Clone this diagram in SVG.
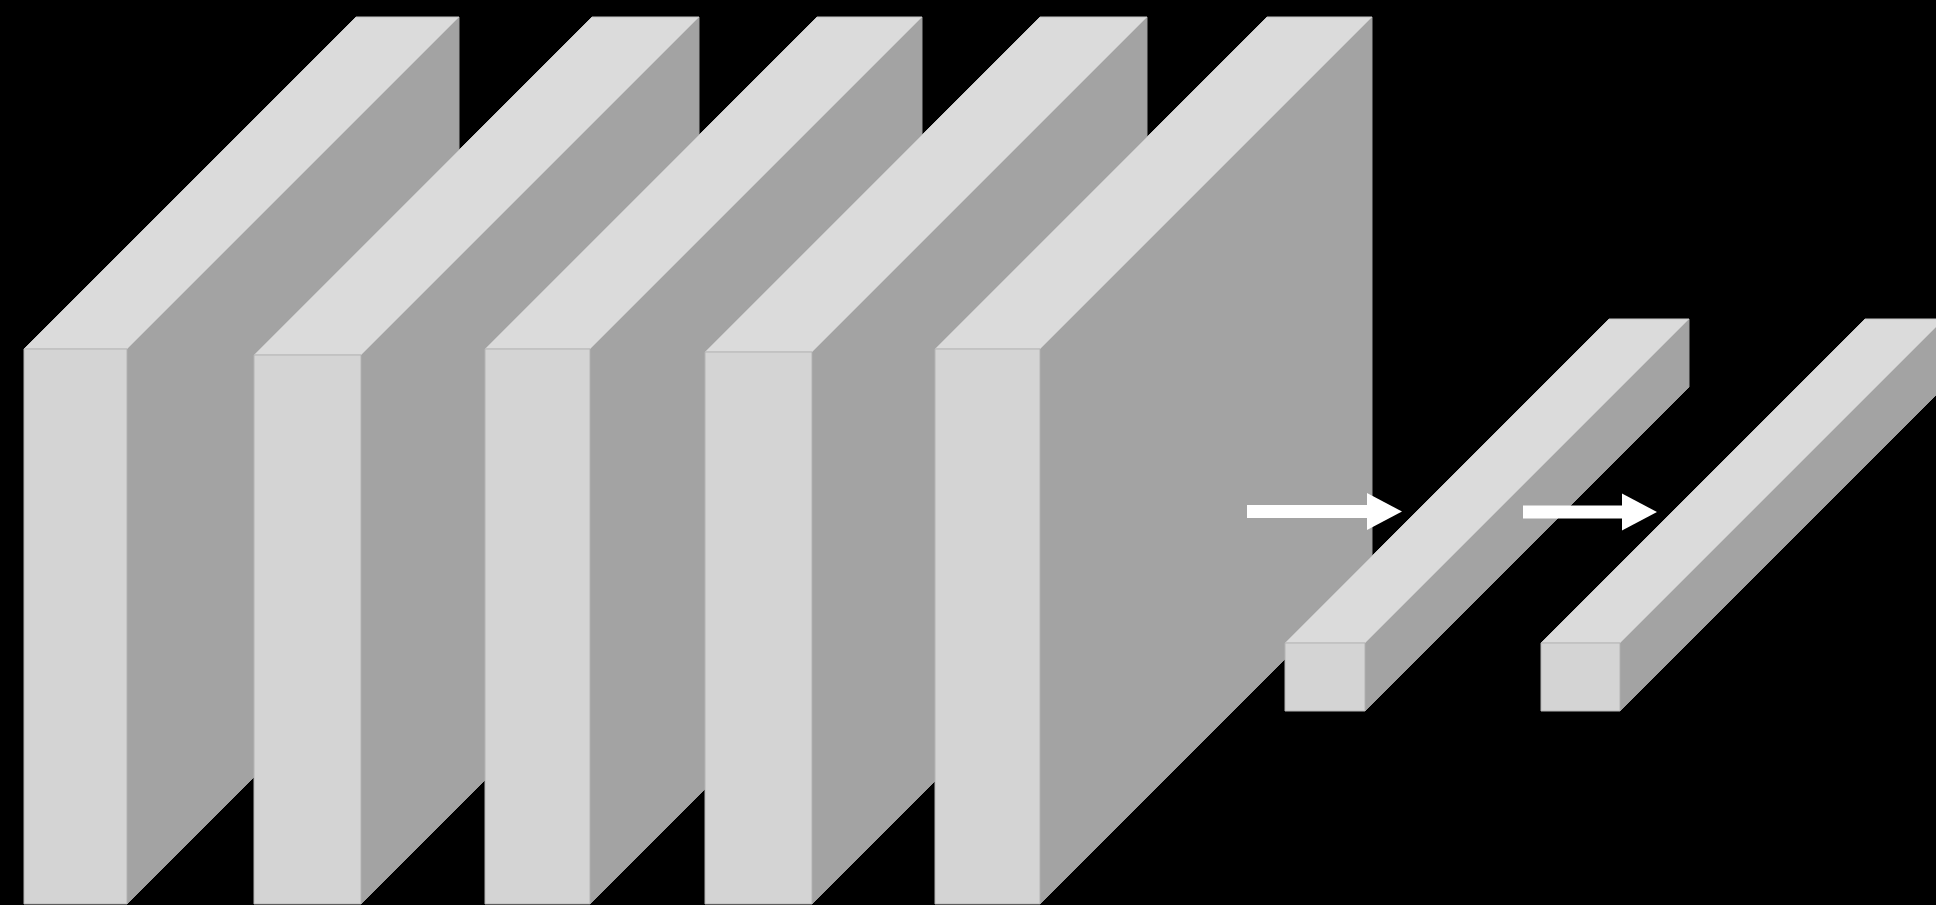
<svg xmlns="http://www.w3.org/2000/svg" width="1936" height="905" viewBox="0 0 1936 905">
  <style>
    .top { fill: #dbdbdb; stroke: #c4c4c4; stroke-width: 1; stroke-linejoin: round; }
    .front { fill: #d4d4d4; stroke: #b4b4b4; stroke-width: 1; stroke-linejoin: round; }
    .side { fill: #a3a3a3; stroke: #9c9c9c; stroke-width: 1; stroke-linejoin: round; }
    .conn { stroke: #ffffff; stroke-width: 13; fill: none; }
  </style>
  <defs>
    <marker id="head" markerUnits="userSpaceOnUse" markerWidth="36" markerHeight="38" refX="3" refY="18.5" orient="auto" overflow="visible">
      <path d="M0,0 L35,18.5 L0,37 Z" fill="#ffffff"/>
    </marker>
  </defs>
  <rect x="0" y="0" width="1936" height="905" fill="#000000"/>

  <!-- Slab 1: front x 24-127, top 349, depth 332 -->
  <g id="slab1">
    <polygon class="side" points="127,349 459,17 459,572 127,904"/>
    <polygon class="top" points="24,349 356,17 459,17 127,349"/>
    <rect class="front" x="24" y="349" width="103" height="555"/>
  </g>

  <!-- Slab 2: front x 254-361, top 355, depth 338 -->
  <g id="slab2">
    <polygon class="side" points="361,355 699,17 699,566 361,904"/>
    <polygon class="top" points="254,355 592,17 699,17 361,355"/>
    <rect class="front" x="254" y="355" width="107" height="549"/>
  </g>

  <!-- Slab 3: front x 485-590, top 349, depth 332 -->
  <g id="slab3">
    <polygon class="side" points="590,349 922,17 922,572 590,904"/>
    <polygon class="top" points="485,349 817,17 922,17 590,349"/>
    <rect class="front" x="485" y="349" width="105" height="555"/>
  </g>

  <!-- Slab 4: front x 705-812, top 352, depth 335 -->
  <g id="slab4">
    <polygon class="side" points="812,352 1147,17 1147,569 812,904"/>
    <polygon class="top" points="705,352 1040,17 1147,17 812,352"/>
    <rect class="front" x="705" y="352" width="107" height="552"/>
  </g>

  <!-- Slab 5: front x 935-1040, top 349, depth 332 -->
  <g id="slab5">
    <polygon class="side" points="1040,349 1372,17 1372,572 1040,904"/>
    <polygon class="top" points="935,349 1267,17 1372,17 1040,349"/>
    <rect class="front" x="935" y="349" width="105" height="555"/>
  </g>

  <!-- Bar 1: front x 1285-1365, y 643-711, depth 324 -->
  <g id="bar1">
    <polygon class="side" points="1365,643 1689,319 1689,387 1365,711"/>
    <polygon class="top" points="1285,643 1609,319 1689,319 1365,643"/>
    <rect class="front" x="1285" y="643" width="80" height="68"/>
  </g>

  <!-- Bar 2: front x 1541-1620, y 643-711, depth 324 -->
  <g id="bar2">
    <polygon class="side" points="1620,643 1944,319 1944,387 1620,711"/>
    <polygon class="top" points="1541,643 1865,319 1944,319 1620,643"/>
    <rect class="front" x="1541" y="643" width="79" height="68"/>
  </g>

  <g id="connectors">
    <line class="conn" x1="1247" y1="511.5" x2="1370" y2="511.5" marker-end="url(#head)"/>
    <line class="conn" x1="1523" y1="512" x2="1625" y2="512" marker-end="url(#head)"/>
  </g>
</svg>
